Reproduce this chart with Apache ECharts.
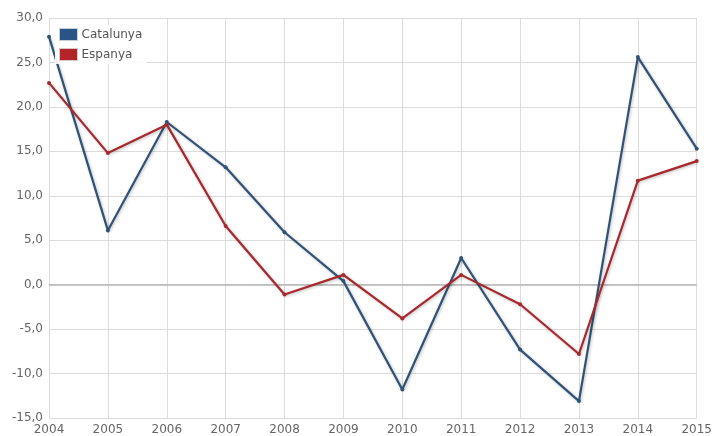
<!DOCTYPE html>
<html>
<head>
<meta charset="utf-8">
<script src="https://cdn.jsdelivr.net/npm/echarts@6/dist/echarts.min.js"></script>
<style>
  html, body { margin: 0; padding: 0; background: #fff; }
  #chart { width: 715px; height: 436px; }
</style>
</head>
<body>
<div id="chart"></div>
<script>
// Annual variation (%), 2004-2015
const years = ['2004', '2005', '2006', '2007', '2008', '2009', '2010', '2011', '2012', '2013', '2014', '2015'];
const catalunya = [27.9, 6.1, 18.3, 13.2, 5.9, 0.4, -11.8, 3.0, -7.3, -13.1, 25.6, 15.3];
const espanya = [22.7, 14.8, 18.0, 6.6, -1.1, 1.1, -3.8, 1.1, -2.2, -7.8, 11.7, 13.9];

const fmt = v => v.toFixed(1).replace('.', ',');
const font = 'DejaVu Sans, Verdana, sans-serif';

const chart = echarts.init(document.getElementById('chart'), null, { renderer: 'canvas' });

function lineSeries(name, data, color) {
  return {
    name: name,
    type: 'line',
    data: data,
    symbol: 'circle',
    symbolSize: 4,
    lineStyle: {
      color: color, width: 2.2,
      shadowColor: 'rgba(0,0,0,0.25)', shadowBlur: 3, shadowOffsetX: 1, shadowOffsetY: 1
    },
    itemStyle: { color: color },
    emphasis: { disabled: true },
    animation: false,
    z: 3
  };
}

const seriesCat = lineSeries('Catalunya', catalunya, '#2f5276');
const seriesEsp = lineSeries('Espanya', espanya, '#a8282d');
seriesEsp.markLine = {
  silent: true,
  symbol: 'none',
  label: { show: false },
  lineStyle: { color: '#b4b4b4', width: 1.5, type: 'solid' },
  data: [{ yAxis: 0 }],
  z: 1
};

chart.setOption({
  backgroundColor: '#ffffff',
  animation: false,
  grid: { left: 49, right: 14, top: 18, bottom: 18, containLabel: false },
  legend: {
    orient: 'vertical',
    left: 55,
    top: 25,
    padding: [3, 4, 3, 4],
    backgroundColor: 'rgba(255,255,255,0.9)',
    itemWidth: 18,
    itemHeight: 12,
    itemGap: 7,
    icon: 'rect',
    textStyle: { fontFamily: font, fontSize: 12, color: '#555555', padding: [0, 0, 0, -1] },
    data: [
      { name: 'Catalunya', itemStyle: { color: '#2a5485', borderColor: '#c8d0da', borderWidth: 1 } },
      { name: 'Espanya', itemStyle: { color: '#b22428', borderColor: '#dcc8c8', borderWidth: 1 } }
    ]
  },
  xAxis: {
    type: 'category',
    data: years,
    boundaryGap: false,
    axisLine: { show: true, lineStyle: { color: '#dcdcdc', width: 1 } },
    axisTick: { show: false },
    axisLabel: { color: '#666666', fontFamily: font, fontSize: 12, margin: 6 },
    splitLine: { show: true, lineStyle: { color: '#dcdcdc', width: 1 } }
  },
  yAxis: {
    type: 'value',
    min: -15,
    max: 30,
    interval: 5,
    axisLine: { show: true, lineStyle: { color: '#dcdcdc', width: 1 } },
    axisTick: { show: false },
    axisLabel: { color: '#666666', fontFamily: font, fontSize: 12, margin: 6, formatter: fmt },
    splitLine: { show: true, lineStyle: { color: '#dcdcdc', width: 1 } }
  },
  series: [seriesCat, seriesEsp]
});
</script>
</body>
</html>
